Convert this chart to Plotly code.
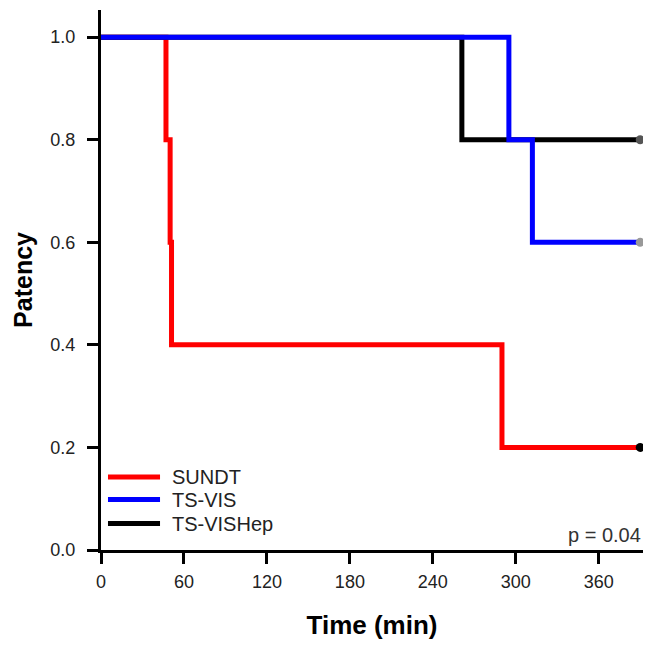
import plotly.graph_objects as go

# Kaplan-Meier step data (time in min, patency)
sundt_t = [0, 47, 50, 51, 290, 390]
sundt_s = [1.0, 0.8, 0.6, 0.4, 0.2, 0.2]
tsvis_t = [0, 295, 312, 390]
tsvis_s = [1.0, 0.8, 0.6, 0.6]
tsvishep_t = [0, 261, 390]
tsvishep_s = [1.0, 0.8, 0.8]

series = [
    ("SUNDT", sundt_t, sundt_s, "#ff0000", "#000000"),
    ("TS-VISHep", tsvishep_t, tsvishep_s, "#000000", "#555555"),
    ("TS-VIS", tsvis_t, tsvis_s, "#0000ff", "#999999"),
]
legend_order = [("SUNDT", "#ff0000"), ("TS-VIS", "#0000ff"), ("TS-VISHep", "#000000")]

xticks = [0, 60, 120, 180, 240, 300, 360]
yticks = [0.0, 0.2, 0.4, 0.6, 0.8, 1.0]

FONT = "Liberation Sans, Arial, sans-serif"

fig = go.Figure()
for name, t, s, col, mcol in series:
    fig.add_trace(go.Scatter(x=t, y=s, mode="lines", line=dict(color=col, width=5, shape="hv"),
                             name=name, showlegend=False, hoverinfo="skip", cliponaxis=False))
for name, t, s, col, mcol in series:
    fig.add_trace(go.Scatter(x=[t[-1]], y=[s[-1]], mode="markers", cliponaxis=False,
                             marker=dict(color=mcol, size=9, line=dict(width=0)),
                             showlegend=False, hoverinfo="skip"))

# manual legend
rows_y = [0.1352, 0.0935, 0.049]
for (name, col), yy in zip(legend_order, rows_y):
    fig.add_shape(type="line", xref="paper", yref="paper", x0=0.0129, x1=0.1089, y0=yy, y1=yy,
                  line=dict(color=col, width=5))
    fig.add_annotation(xref="paper", yref="paper", x=0.1273, y=yy, text=name, showarrow=False,
                       xanchor="left", yanchor="middle", font=dict(family=FONT, size=20, color="#222"))

fig.add_annotation(xref="paper", yref="paper", x=1.0, y=0.028, text="p = 0.04", showarrow=False,
                   xanchor="right", yanchor="middle", font=dict(family=FONT, size=20, color="#333"))

fig.update_layout(
    width=643, height=640,
    margin=dict(l=93, r=8, t=2, b=98),
    plot_bgcolor="white", paper_bgcolor="white",
    font=dict(family=FONT, size=18, color="#222"),
)
fig.update_xaxes(range=[0, 392], tickvals=xticks, ticktext=[str(v) for v in xticks],
                 showgrid=False, zeroline=False, showline=True, linecolor="black", linewidth=3,
                 ticks="outside", ticklen=11, tickwidth=3, tickcolor="black", ticklabelstandoff=2,
                 tickfont=dict(family=FONT, size=18, color="#222"),
                 title=dict(text="<b>Time (min)</b>", font=dict(family=FONT, size=26, color="black"), standoff=26))
fig.update_yaxes(range=[0, 1.053], tickvals=yticks, ticktext=[f"{v:.1f}" for v in yticks],
                 showgrid=False, zeroline=False, showline=True, linecolor="black", linewidth=3,
                 ticks="outside", ticklen=11, tickwidth=3, tickcolor="black", ticklabelstandoff=8,
                 tickfont=dict(family=FONT, size=18, color="#222"),
                 title=dict(text="<b>Patency</b>", font=dict(family=FONT, size=25, color="black"), standoff=11))

fig.write_html("out.html")
